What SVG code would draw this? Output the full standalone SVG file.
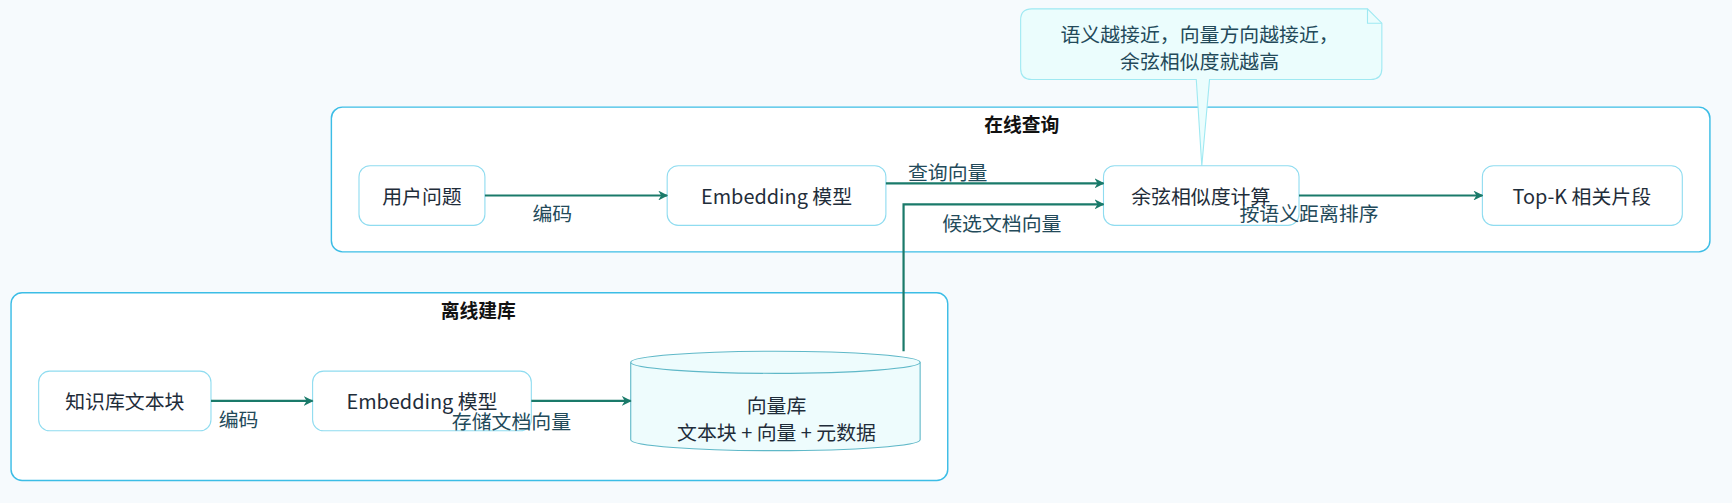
<svg xmlns="http://www.w3.org/2000/svg" width="1732" height="503" viewBox="0 0 1732 503">
<defs>
<style>
text{font-family:"Noto Sans CJK SC","Noto Sans",sans-serif;font-size:18px;fill:#1f2d3a;text-anchor:middle;dominant-baseline:central}
.cl{fill:#fff;stroke:#3cbde6;stroke-width:1.3}
.t{font-weight:bold;font-size:17px;fill:#111}
.n{fill:#fff;stroke:#8fdcf0;stroke-width:1}
.e{fill:none;stroke:#1a7a6a;stroke-width:2;marker-end:url(#a)}
.l{fill:#234a5a}
</style>
<marker id="a" viewBox="0 0 10 10" refX="9" refY="5" markerWidth="9" markerHeight="9" orient="auto" markerUnits="userSpaceOnUse"><path d="M0,0 L10,5 L0,10 L3,5 z" fill="#1a7a6a"/></marker>
</defs>
<rect width="1732" height="503" fill="#f6fafd"/>
<g transform="scale(1.1046)">
<g id="online"><rect class="cl" x="300" y="97" width="1248" height="131" rx="10"/><text class="t" x="925" y="112">在线查询</text></g>
<g id="offline"><rect class="cl" x="10" y="265" width="848" height="170" rx="10"/><text class="t" x="433" y="280">离线建库</text></g>
<g id="note">
<path d="M924,18 Q924,8 934,8 L1238,8 L1251,21 L1251,62 Q1251,72 1241,72 L1095,72 L1088,150 L1083,72 L934,72 Q924,72 924,62 Z" fill="#ebfdfd" stroke="#9fe9f2"/>
<path d="M1238,8 L1238,21 L1251,21" fill="none" stroke="#9fe9f2"/>
<text x="1086" y="30" class="l">语义越接近，向量方向越接近，</text>
<text x="1086" y="55" class="l">余弦相似度就越高</text>
</g>
<g id="q"><rect class="n" x="325" y="150" width="114" height="54" rx="10"/><text x="382" y="177">用户问题</text></g>
<g id="emb1"><rect class="n" x="604" y="150" width="198" height="54" rx="10"/><text x="703" y="177">Embedding 模型</text></g>
<g id="cos"><rect class="n" x="999" y="150" width="177" height="54" rx="10"/><text x="1087" y="177">余弦相似度计算</text></g>
<g id="topk"><rect class="n" x="1342" y="150" width="181" height="54" rx="10"/><text x="1432" y="177">Top-K 相关片段</text></g>
<g id="kb"><rect class="n" x="35" y="336" width="156" height="54" rx="10"/><text x="113" y="363">知识库文本块</text></g>
<g id="emb2"><rect class="n" x="283" y="336" width="198" height="54" rx="10"/><text x="382" y="363">Embedding 模型</text></g>
<g id="db">
<path d="M571,328 L571,398 A131,10 0 0 0 833,398 L833,328" fill="#eefcfd" stroke="#5fb8c8"/>
<ellipse cx="702" cy="328" rx="131" ry="10" fill="#eefcfd" stroke="#5fb8c8"/>
<text x="703" y="366">向量库</text><text x="703" y="391">文本块 + 向量 + 元数据</text>
</g>
<g id="edges">
<path class="e" d="M439,177 L604,177"/><text class="l" x="500" y="192">编码</text>
<path class="e" d="M802,166 L999,166"/><text class="l" x="858" y="155">查询向量</text>
<path class="e" d="M818,318 L818,185 L999,185"/><text class="l" x="907" y="201">候选文档向量</text>
<path class="e" d="M1176,177 L1342,177"/><text class="l" x="1185" y="192">按语义距离排序</text>
<path class="e" d="M191,363 L283,363"/><text class="l" x="216" y="379">编码</text>
<path class="e" d="M481,363 L571,363"/><text class="l" x="463" y="381">存储文档向量</text>
</g>
</g>
</svg>
